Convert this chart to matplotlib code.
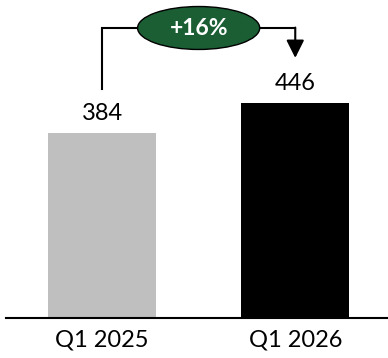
import matplotlib
matplotlib.use("Agg")
import matplotlib.pyplot as plt
from matplotlib.patches import Ellipse

# Data
categories = ["Q1 2025", "Q1 2026"]
values = [384, 446]
bar_colors = ["#BFBFBF", "#000000"]
change_label = "+16%"

plt.rcParams["font.family"] = ["Lato", "DejaVu Sans"]

fig = plt.figure(figsize=(3.88, 3.58), dpi=100)
ax = fig.add_axes([6 / 388, 40 / 358, 382 / 388, 318 / 358])

x = list(range(len(categories)))
bars = ax.bar(x, values, width=0.56, color=bar_colors, zorder=2)

ax.set_xlim(-0.497, 1.48)
ax.set_ylim(0, 659)

# value labels
for xi, v in zip(x, values):
    ax.annotate(f"{v}", xy=(xi, v), xytext=(0, 9), textcoords="offset points",
                ha="center", va="baseline", fontsize=17, color="black")

# bracket with growth bubble
y_top = 601
ax.plot([x[0], x[0], x[1]], [475, y_top, y_top], color="black", lw=1.5,
        solid_joinstyle="miter", zorder=3)
ax.annotate("", xy=(x[1], 539), xytext=(x[1], y_top + 0.8),
            arrowprops=dict(arrowstyle="-|>,head_length=1.0,head_width=0.5",
                            mutation_scale=10.8, color="black", lw=1.5,
                            shrinkA=0, shrinkB=0), zorder=3)
ell = Ellipse(((x[0] + x[1]) / 2, y_top), width=0.632, height=89,
              facecolor="#1B5E34", edgecolor="black", lw=1.0, zorder=4)
ax.add_patch(ell)
ax.text((x[0] + x[1]) / 2, y_top - 2, change_label, ha="center", va="center",
        fontsize=16.5, fontweight="bold", color="white", zorder=5)

# axes styling
for side in ["top", "right", "left"]:
    ax.spines[side].set_visible(False)
ax.spines["bottom"].set_linewidth(1.5)
ax.set_yticks([])
ax.set_xticks(x)
ax.set_xticklabels(categories, fontsize=17)
ax.tick_params(axis="x", length=0, pad=8)

fig.savefig("out.png", dpi=100)
